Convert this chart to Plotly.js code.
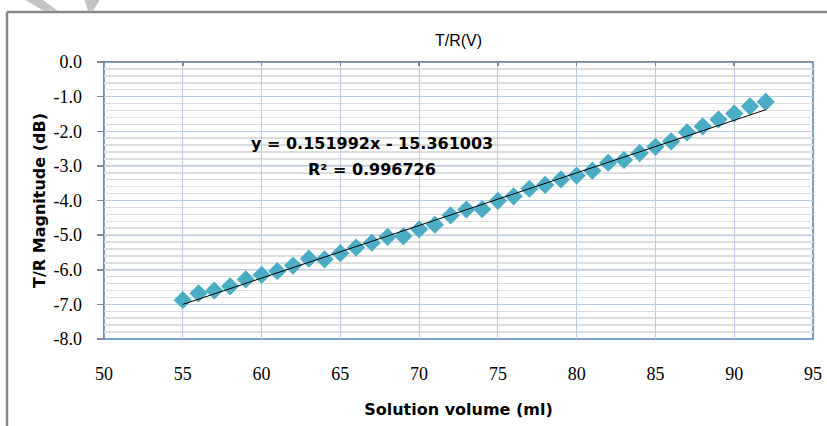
<!DOCTYPE html>
<html>
<head>
<meta charset="utf-8">
<script src="https://cdn.plot.ly/plotly-3.0.1.min.js"></script>
<style>html,body{margin:0;padding:0;background:#fff;}#chart{width:827px;height:426px;}</style>
</head>
<body>
<div id="chart"></div>
<script>
// Data
var volume = [55,56,57,58,59,60,61,62,63,64,65,66,67,68,69,70,71,72,73,74,75,76,77,78,79,80,81,82,83,84,85,86,87,88,89,90,91,92];
var magnitude = [-6.88,-6.68,-6.60,-6.48,-6.28,-6.15,-6.04,-5.88,-5.68,-5.70,-5.52,-5.36,-5.22,-5.05,-5.03,-4.83,-4.70,-4.43,-4.26,-4.25,-4.01,-3.88,-3.66,-3.55,-3.39,-3.28,-3.14,-2.91,-2.83,-2.63,-2.45,-2.29,-2.03,-1.86,-1.66,-1.49,-1.28,-1.15];
// Trendline coefficients as printed on the chart
var slope = 0.151992;
var intercept = -15.361003;
var rSquared = "0.996726";
var yTickVals = [0,-1,-2,-3,-4,-5,-6,-7,-8];
var xTickVals = [50,55,60,65,70,75,80,85,90,95];

var xMin = Math.min.apply(null, volume), xMax = Math.max.apply(null, volume);
var trendX = [xMin, xMax];
var trendY = trendX.map(function(v){ return slope * v + intercept; });

var W = 827, H = 426, L = 104, R = 14, T = 62, B = 87;
var pw = W - L - R, ph = H - T - B;
function px(x){ return (x - L) / pw; }
function py(y){ return (H - B - y) / ph; }

var traces = [
  {x: volume, y: magnitude, type: 'scatter', mode: 'markers',
   marker: {symbol: 'diamond', size: 14, color: '#4bacc6', line: {width: 0}},
   hoverinfo: 'x+y', showlegend: false},
  {x: trendX, y: trendY, type: 'scatter', mode: 'lines',
   line: {color: '#000000', width: 1}, hoverinfo: 'skip', showlegend: false},
  {x: [], y: [], xaxis: 'x2', yaxis: 'y', type: 'scatter', showlegend: false}
];

function poly(pts){
  return 'M ' + pts.map(function(p){ return px(p[0]) + ' ' + py(p[1]); }).join(' L ') + ' Z';
}

var layout = {
  width: W, height: H,
  margin: {l: L, r: R, t: T, b: B, pad: 0},
  paper_bgcolor: '#ffffff', plot_bgcolor: '#ffffff',
  showlegend: false,
  title: {text: 'T/R(V)', x: 0.5, xref: 'paper', y: 1 - 40 / H, yanchor: 'middle',
          font: {family: 'Liberation Sans, Arial, sans-serif', size: 16, color: '#000'}},
  xaxis: {
    range: [50, 95], tickvals: xTickVals, ticktext: xTickVals.map(String),
    showline: false, zeroline: false, ticks: '',
    showgrid: true, gridcolor: '#b9cde5', gridwidth: 1,
    tickfont: {family: 'Liberation Serif, Times New Roman, serif', size: 18, color: '#000'},
    ticklabelstandoff: 22,
    title: {text: 'Solution volume (ml)', standoff: 20,
            font: {family: 'DejaVu Sans, sans-serif', size: 16, color: '#000', weight: 'bold'}},
    automargin: false, fixedrange: true
  },
  xaxis2: {
    overlaying: 'x', side: 'top', range: [50, 95], matches: 'x',
    tickvals: xTickVals, showticklabels: false, showgrid: false, zeroline: false,
    showline: true, linecolor: '#868686', linewidth: 1.5,
    ticks: 'inside', ticklen: 4, tickcolor: '#868686', tickwidth: 1.5
  },
  yaxis: {
    range: [-8, 0], tickvals: yTickVals,
    ticktext: yTickVals.map(function(v){ return v.toFixed(1); }),
    showline: true, linecolor: '#868686', linewidth: 1.5,
    ticks: 'outside', ticklen: 6, tickcolor: '#868686', tickwidth: 1.5,
    zeroline: false, showgrid: true, gridcolor: '#b9cde5', gridwidth: 1,
    minor: {dtick: 0.2, showgrid: true, gridcolor: '#dddddd', gridwidth: 1.5, ticks: ''},
    tickfont: {family: 'Liberation Serif, Times New Roman, serif', size: 18, color: '#000'},
    ticklabelstandoff: 11,
    title: {text: 'T/R Magnitude (dB)', standoff: 4,
            font: {family: 'DejaVu Sans, sans-serif', size: 16, color: '#000', weight: 'bold'}},
    automargin: false, fixedrange: true
  },
  annotations: [
    {xref: 'paper', yref: 'paper', x: px(372), y: py(143), xanchor: 'center', yanchor: 'middle',
     text: 'y = ' + slope.toFixed(6) + 'x - ' + Math.abs(intercept).toFixed(6), showarrow: false,
     font: {family: 'DejaVu Sans, sans-serif', size: 16, color: '#000', weight: 'bold'}},
    {xref: 'paper', yref: 'paper', x: px(372), y: py(169), xanchor: 'center', yanchor: 'middle',
     text: 'R\u00b2 = ' + rSquared, showarrow: false,
     font: {family: 'DejaVu Sans, sans-serif', size: 16, color: '#000', weight: 'bold'}}
  ],
  shapes: [
    {type: 'rect', xref: 'paper', yref: 'paper', x0: 0, x1: 1, y0: 0, y1: 1,
     line: {color: '#4f81bd', width: 1.5}, layer: 'between'},
    {type: 'line', xref: 'paper', yref: 'paper', x0: px(7), x1: px(840), y0: py(12), y1: py(12),
     line: {color: '#878787', width: 2.5}, layer: 'above'},
    {type: 'line', xref: 'paper', yref: 'paper', x0: px(7), x1: px(7), y0: py(12), y1: py(440),
     line: {color: '#878787', width: 2.5}, layer: 'above'},
    {type: 'path', xref: 'paper', yref: 'paper', path: poly([[22,-2],[40,-2],[58,11],[44,11]]),
     fillcolor: '#c4c4c4', line: {width: 0}, layer: 'above'},
    {type: 'path', xref: 'paper', yref: 'paper', path: poly([[84,-2],[101,-2],[93,11],[88,11]]),
     fillcolor: '#c4c4c4', line: {width: 0}, layer: 'above'}
  ]
};

Plotly.newPlot('chart', traces, layout, {displayModeBar: false, staticPlot: true});
</script>
</body>
</html>
